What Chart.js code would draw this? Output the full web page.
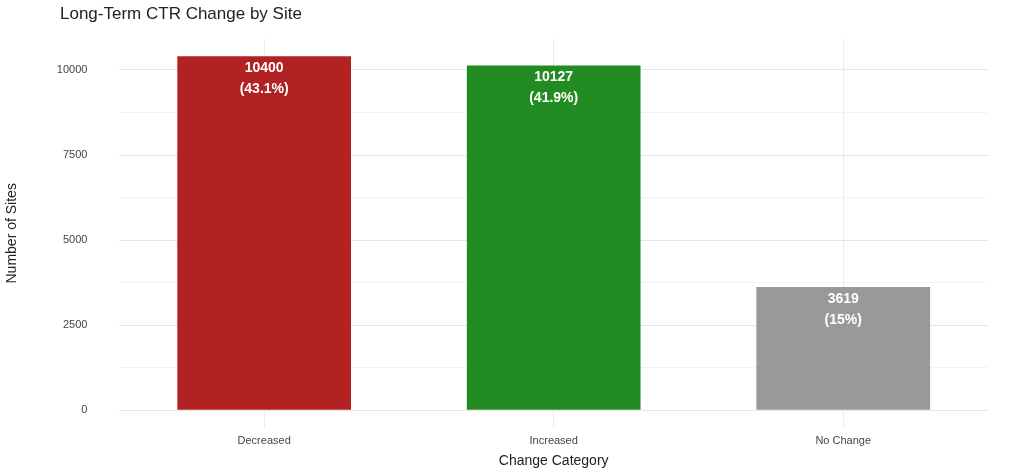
<!DOCTYPE html>
<html><head><meta charset="utf-8">
<script src="https://cdn.jsdelivr.net/npm/chart.js@4"></script>
<style>body{margin:0;background:#fff}#w{width:1024px;height:472px;position:relative}</style>
</head><body><div id="w"><canvas id="c"></canvas></div>
<script>
const categories=["Decreased","Increased","No Change"];
const counts=[10400,10127,3619];
const percents=["43.1%","41.9%","15%"];
const colors=["#b22222","#228b22","#999999"];
const majorTicks=[0,2500,5000,7500,10000];
const titleText='Long-Term CTR Change by Site';
const labelPlugin={id:'lbl',afterDatasetsDraw(ch){
  const ctx=ch.ctx;const meta=ch.getDatasetMeta(0);
  ctx.save();ctx.fillStyle='#fff';ctx.font='bold 14px "Liberation Sans", Arial';ctx.textAlign='center';ctx.textBaseline='middle';
  meta.data.forEach((b,i)=>{ctx.fillText(String(counts[i]),b.x,b.y+12);ctx.fillText('('+percents[i]+')',b.x,b.y+33);});
  ctx.fillStyle='#222';ctx.font='17px "Liberation Sans", Arial';ctx.textAlign='left';
  ctx.fillText(titleText,60,14);
  ctx.restore();}};
new Chart(document.getElementById('c'),{type:'bar',
 data:{labels:categories,datasets:[{data:counts,backgroundColor:colors,categoryPercentage:1,barPercentage:0.6}]},
 options:{responsive:true,maintainAspectRatio:false,animation:false,
  layout:{padding:{left:0,right:36,top:28,bottom:2}},
  plugins:{legend:{display:false},tooltip:{enabled:false},title:{display:false}},
  scales:{
   x:{grid:{offset:false,color:'#ebebeb',drawTicks:false},border:{display:false},
      ticks:{color:'#444',font:{family:'"Liberation Sans", Arial',size:11},padding:6},
      title:{display:true,text:'Change Category',color:'#222',font:{family:'"Liberation Sans", Arial',size:14},padding:{top:0,bottom:0}}},
   y:{min:-520,max:10920,afterBuildTicks(s){s.ticks=[0,1250,2500,3750,5000,6250,7500,8750,10000].map(v=>({value:v}));},
      grid:{color:c=>majorTicks.includes(c.tick&&c.tick.value)?'#e6e6e6':'#f3f3f3',drawTicks:false},border:{display:false},
      ticks:{color:'#444',font:{family:'"Liberation Sans", Arial',size:11},padding:32,autoSkip:false,callback:v=>majorTicks.includes(v)?String(v):''},
      title:{display:true,text:'Number of Sites',color:'#222',font:{family:'"Liberation Sans", Arial',size:14},padding:{bottom:4}}}
  }},plugins:[labelPlugin]});
</script></body></html>
